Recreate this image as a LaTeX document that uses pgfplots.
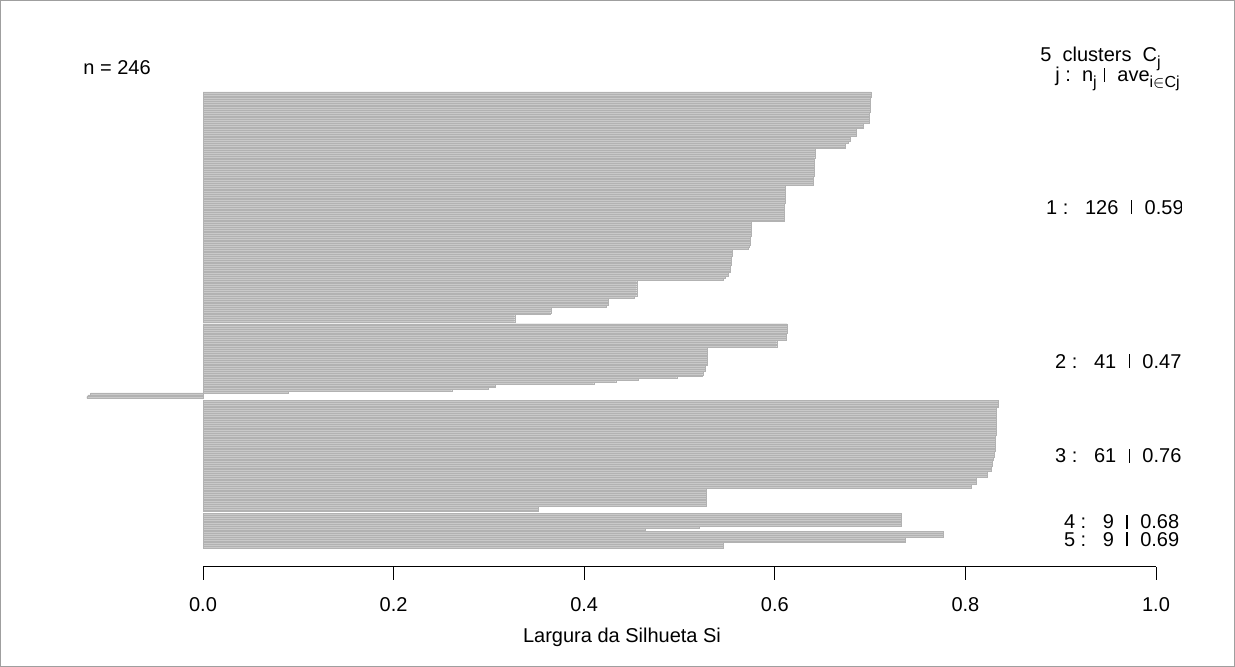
\documentclass[border=0pt]{standalone}
\usepackage{pgfplots}
\pgfplotsset{compat=1.18}
\usepackage{fontspec}
\setmainfont{Liberation Sans}
\definecolor{barfill}{HTML}{C9C9C9}
\definecolor{barline}{HTML}{B2B2B2}
\newcommand{\vb}{\hspace{0.6pt}\rule{0.8pt}{7.1pt}\hspace{0.6pt}}
\newcommand{\sub}[1]{\raisebox{-0.28em}{\fontsize{8pt}{9pt}\selectfont #1}}
\newcommand{\lbfont}{\fontsize{10pt}{12pt}\selectfont}

\begin{document}
\lbfont
\begin{tikzpicture}[x=1pt,y=1pt]
\useasboundingbox (0,0) rectangle (617.5,333.5);
\draw[gray!75, line width=0.6pt] (0.3,0.3) rectangle (617.2,333.2);
\begin{axis}[
  at={(101.5pt,50pt)}, anchor=south west,
  scale only axis, width=476.5pt, height=237.5pt,
  xmin=0, xmax=1, ymin=-260.4, ymax=0,
  clip=false,
  axis x line*=bottom, axis y line=none,
  xtick={0,0.2,0.4,0.6,0.8,1},
  /pgf/number format/assume math mode=true,
  xticklabel style={/pgf/number format/fixed,/pgf/number format/fixed zerofill,/pgf/number format/precision=1, font=\lbfont, yshift=-5pt},
  tick align=outside, major tick length=6.5pt,
  every tick/.style={black, line width=0.5pt},
  every outer x axis line/.append style={black, line width=0.5pt},
  clbar/.style={xbar, bar width=1, bar shift=0pt, fill=barfill, draw=barline, line width=0.12pt},
]
% cluster 1 (126)
\addplot[clbar] coordinates {
(0.701,-0.5) (0.701,-1.5) (0.701,-2.5) (0.700,-3.5) (0.700,-4.5) (0.700,-5.5) (0.700,-6.5) (0.700,-7.5)
(0.700,-8.5) (0.700,-9.5) (0.700,-10.5) (0.699,-11.5) (0.699,-12.5) (0.699,-13.5) (0.699,-14.5) (0.699,-15.5)
(0.699,-16.5) (0.693,-17.5) (0.693,-18.5) (0.693,-19.5) (0.685,-20.5) (0.685,-21.5) (0.685,-22.5) (0.685,-23.5)
(0.679,-24.5) (0.679,-25.5) (0.679,-26.5) (0.677,-27.5) (0.674,-28.5) (0.674,-29.5) (0.674,-30.5)
(0.642,-31.5) (0.642,-32.5) (0.642,-33.5) (0.642,-34.5) (0.642,-35.5) (0.641,-36.5) (0.641,-37.5) (0.641,-38.5)
(0.641,-39.5) (0.641,-40.5) (0.641,-41.5) (0.641,-42.5) (0.641,-43.5) (0.641,-44.5) (0.641,-45.5) (0.640,-46.5)
(0.640,-47.5) (0.640,-48.5) (0.640,-49.5) (0.640,-50.5)
(0.611,-51.5) (0.611,-52.5) (0.611,-53.5) (0.611,-54.5) (0.611,-55.5) (0.611,-56.5) (0.611,-57.5) (0.611,-58.5)
(0.611,-59.5) (0.611,-60.5) (0.610,-61.5) (0.610,-62.5) (0.610,-63.5) (0.610,-64.5) (0.610,-65.5) (0.610,-66.5)
(0.610,-67.5) (0.610,-68.5) (0.610,-69.5) (0.610,-70.5)
(0.575,-71.5) (0.575,-72.5) (0.575,-73.5) (0.575,-74.5) (0.575,-75.5) (0.575,-76.5) (0.575,-77.5) (0.575,-78.5)
(0.574,-79.5) (0.574,-80.5) (0.574,-81.5) (0.574,-82.5) (0.574,-83.5) (0.573,-84.5) (0.572,-85.5)
(0.555,-86.5) (0.555,-87.5) (0.555,-88.5) (0.555,-89.5) (0.554,-90.5) (0.554,-91.5) (0.554,-92.5) (0.554,-93.5)
(0.554,-94.5) (0.553,-95.5) (0.553,-96.5) (0.553,-97.5) (0.553,-98.5) (0.551,-99.5) (0.551,-100.5) (0.548,-101.5)
(0.546,-102.5)
(0.455,-103.5) (0.455,-104.5) (0.455,-105.5) (0.455,-106.5) (0.455,-107.5) (0.455,-108.5) (0.455,-109.5) (0.455,-110.5)
(0.455,-111.5) (0.452,-112.5) (0.425,-113.5) (0.425,-114.5) (0.425,-115.5) (0.425,-116.5) (0.423,-117.5)
(0.365,-118.5) (0.365,-119.5) (0.365,-120.5) (0.364,-121.5) (0.327,-122.5) (0.327,-123.5) (0.327,-124.5) (0.327,-125.5)
};
% cluster 2 (41)
\addplot[clbar] coordinates {
(0.613,-127.5) (0.613,-128.5) (0.613,-129.5) (0.613,-130.5) (0.613,-131.5) (0.612,-132.5) (0.612,-133.5) (0.612,-134.5)
(0.612,-135.5) (0.602,-136.5) (0.602,-137.5) (0.602,-138.5) (0.602,-139.5)
(0.529,-140.5) (0.529,-141.5) (0.529,-142.5) (0.529,-143.5) (0.529,-144.5) (0.529,-145.5) (0.529,-146.5) (0.529,-147.5)
(0.529,-148.5) (0.529,-149.5) (0.527,-150.5) (0.527,-151.5) (0.527,-152.5) (0.525,-153.5) (0.525,-154.5) (0.524,-155.5)
(0.497,-156.5) (0.457,-157.5) (0.433,-158.5) (0.410,-159.5) (0.307,-160.5) (0.306,-161.5) (0.299,-162.5) (0.261,-163.5)
(0.089,-164.5) (-0.118,-165.5) (-0.121,-166.5) (-0.122,-167.5)
};
% cluster 3 (61)
\addplot[clbar] coordinates {
(0.834,-169.5) (0.834,-170.5) (0.834,-171.5) (0.834,-172.5)
(0.832,-173.5) (0.832,-174.5) (0.832,-175.5) (0.832,-176.5) (0.832,-177.5) (0.832,-178.5) (0.832,-179.5) (0.832,-180.5)
(0.832,-181.5) (0.832,-182.5) (0.832,-183.5) (0.832,-184.5) (0.832,-185.5) (0.832,-186.5) (0.832,-187.5)
(0.831,-188.5) (0.831,-189.5) (0.831,-190.5) (0.831,-191.5) (0.831,-192.5) (0.831,-193.5) (0.831,-194.5) (0.831,-195.5)
(0.831,-196.5) (0.830,-197.5) (0.830,-198.5) (0.830,-199.5) (0.829,-200.5) (0.829,-201.5) (0.828,-202.5) (0.828,-203.5)
(0.828,-204.5) (0.827,-205.5) (0.827,-206.5) (0.827,-207.5) (0.823,-208.5) (0.823,-209.5) (0.823,-210.5)
(0.811,-211.5) (0.811,-212.5) (0.811,-213.5) (0.811,-214.5) (0.806,-215.5) (0.806,-216.5)
(0.528,-217.5) (0.528,-218.5) (0.528,-219.5) (0.528,-220.5) (0.528,-221.5) (0.528,-222.5) (0.528,-223.5) (0.528,-224.5)
(0.528,-225.5) (0.528,-226.5) (0.352,-227.5) (0.352,-228.5) (0.352,-229.5)
};
% cluster 4 (9)
\addplot[clbar] coordinates {
(0.733,-231.5) (0.733,-232.5) (0.733,-233.5) (0.733,-234.5) (0.733,-235.5) (0.733,-236.5) (0.733,-237.5)
(0.521,-238.5) (0.464,-239.5)
};
% cluster 5 (9)
\addplot[clbar] coordinates {
(0.777,-241.5) (0.777,-242.5) (0.777,-243.5) (0.737,-244.5) (0.737,-245.5) (0.737,-246.5)
(0.546,-247.5) (0.546,-248.5) (0.546,-249.5)
};
\end{axis}
\node[anchor=base west, inner sep=0pt, font=\lbfont] at (41.5,296) {n = 246};
\node[anchor=base west, inner sep=0pt, font=\lbfont] at (520,302.5) {5\ \ clusters\ \ C\sub{j}};
\begin{scope}
\clip (0,0) rectangle (590.8,333.5);
\node[anchor=base west, inner sep=0pt, font=\lbfont] at (527.5,292.5) {j :\ \ n\sub{j}\ \vb\ \ ave\sub{i$\in$Cj}\ \ \ s\sub{i}};
\node[anchor=base west, inner sep=0pt, font=\lbfont] at (522.9,226.4) {1 :\ \ \ 126\ \ \vb\ \ 0.59};
\node[anchor=base west, inner sep=0pt, font=\lbfont] at (527.35,149.4) {2 :\ \ \ 41\ \ \vb\ \ 0.47};
\node[anchor=base west, inner sep=0pt, font=\lbfont] at (527.35,102) {3 :\ \ \ 61\ \ \vb\ \ 0.76};
\node[anchor=base west, inner sep=0pt, font=\lbfont] at (531.8,69.1) {4 :\ \ \ 9\ \ \vb\ \ 0.68};
\node[anchor=base west, inner sep=0pt, font=\lbfont] at (531.8,60.3) {5 :\ \ \ 9\ \ \vb\ \ 0.69};
\end{scope}
\node[anchor=base, inner sep=0pt, font=\lbfont] at (311,12) {Largura da Silhueta Si};
\end{tikzpicture}
\end{document}
